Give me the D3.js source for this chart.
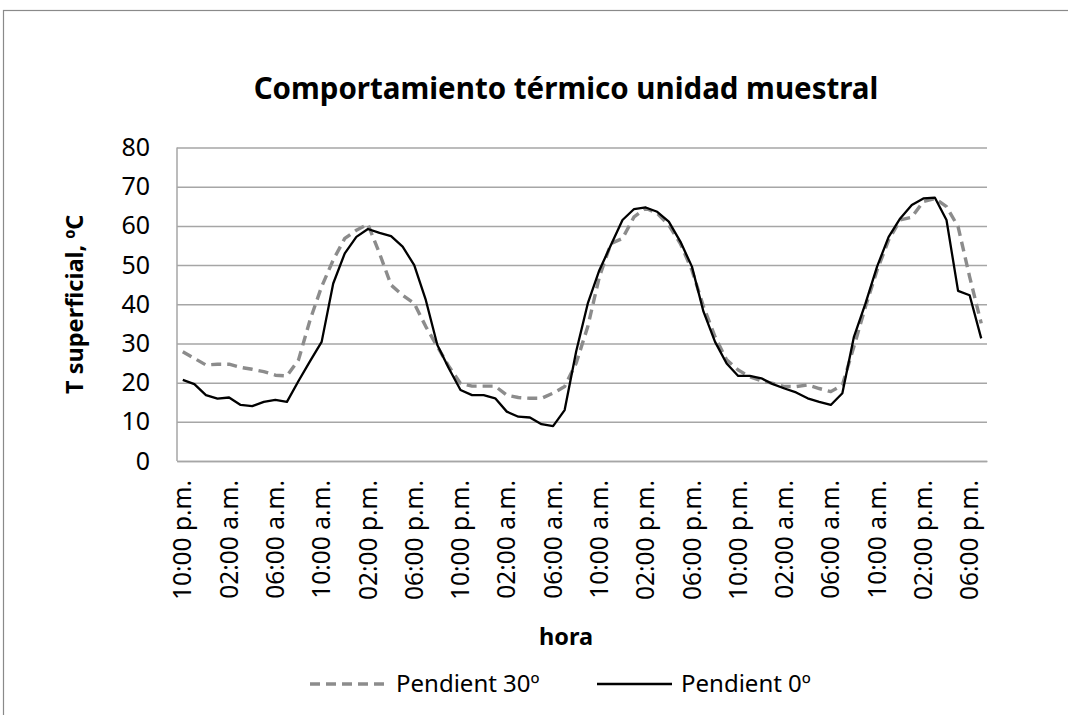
<!DOCTYPE html>
<html>
<head>
<meta charset="utf-8">
<script src="https://cdn.jsdelivr.net/npm/d3@7"></script>
<style>
	body { margin: 0; background: #fff; }
	text { font-family: "Noto Sans", "Open Sans", sans-serif; fill: #000; }
</style>
</head>
<body>
<div id="chart"></div>
<script>
// Tick labels along the time axis (one every 4 hours)
const tickLabels = [
	"10:00 p.m.", "02:00 a.m.", "06:00 a.m.", "10:00 a.m.", "02:00 p.m.", "06:00 p.m.",
	"10:00 p.m.", "02:00 a.m.", "06:00 a.m.", "10:00 a.m.", "02:00 p.m.", "06:00 p.m.",
	"10:00 p.m.", "02:00 a.m.", "06:00 a.m.", "10:00 a.m.", "02:00 p.m.", "06:00 p.m."
];

// Hourly readings, 70 hours starting at 10:00 p.m.
const pendient30 = [
	27.9, 26.2, 24.5, 24.7, 24.7, 23.9, 23.4, 22.8, 21.9, 21.7,
	25.8, 36.0, 44.5, 51.3, 56.8, 58.9, 60.4, 53.0, 44.9, 42.3,
	40.2, 34.3, 29.2, 24.1, 19.8, 19.1, 19.1, 19.1, 16.8, 16.2,
	16.0, 16.0, 17.3, 19.0, 25.0, 34.3, 47.0, 55.5, 56.8, 62.3,
	64.5, 63.2, 60.2, 55.5, 48.7, 39.4, 31.7, 25.8, 23.2, 21.5,
	20.5, 19.8, 19.0, 19.0, 19.4, 18.5, 17.7, 19.4, 29.2, 39.4,
	48.7, 56.4, 61.5, 62.2, 66.2, 67.0, 64.9, 59.8, 47.0, 35.1
];
const pendient0 = [
	20.7, 19.6, 16.8, 15.9, 16.2, 14.3, 14.0, 15.1, 15.6, 15.1,
	20.4, 25.5, 30.4, 45.3, 53.0, 57.2, 59.2, 58.2, 57.4, 54.7,
	50.0, 41.1, 29.6, 23.6, 18.1, 16.8, 16.8, 16.0, 12.6, 11.3,
	11.1, 9.4, 8.9, 13.0, 28.0, 40.2, 48.7, 55.1, 61.5, 64.3,
	64.7, 63.6, 61.1, 56.0, 49.6, 38.1, 30.4, 24.9, 21.7, 21.7,
	21.1, 19.6, 18.5, 17.5, 16.0, 15.1, 14.3, 17.3, 31.7, 40.2,
	49.6, 57.2, 61.9, 65.3, 67.0, 67.2, 61.5, 43.4, 42.3, 31.3
];
const seriesNames = ["Pendient 30º", "Pendient 0º"];
const yTicks = [0, 10, 20, 30, 40, 50, 60, 70, 80];

const W = 1068, H = 715;
const plot = { left: 177, right: 987, top: 147.5, bottom: 461 };
const gridColor = "#a6a6a6";

const svg = d3.select("#chart")
	.append("svg")
	.attr("width", W)
	.attr("height", H);

// outer chart frame (runs off the right/bottom edge)
svg.append("rect")
	.attr("x", 3.5).attr("y", 10.5)
	.attr("width", 1200).attr("height", 900)
	.attr("fill", "none")
	.attr("stroke", "#8a8a8a")
	.attr("stroke-width", 1.2);

const x = d3.scaleBand()
	.domain(d3.range(pendient0.length))
	.range([plot.left, plot.right])
	.paddingInner(0).paddingOuter(0);
const y = d3.scaleLinear().domain([0, 80]).range([plot.bottom, plot.top]);
const cx = (i) => x(i) + x.bandwidth() / 2;

// gridlines + y labels
const yAxis = svg.append("g")
	.attr("class", "y-axis")
	.attr("transform", "translate(" + plot.left + ",0)")
	.call(d3.axisLeft(y).tickValues(yTicks).tickSize(-(plot.right - plot.left)).tickPadding(27));
yAxis.select(".domain").remove();
yAxis.selectAll(".tick line").attr("stroke", gridColor).attr("stroke-width", 1.5);
yAxis.selectAll(".tick text")
	.style("font-size", "25px")
	.style("font-family", "'Noto Sans', sans-serif")
	.attr("fill", "#000");

// left axis line
svg.append("line")
	.attr("x1", plot.left).attr("x2", plot.left)
	.attr("y1", plot.top).attr("y2", plot.bottom)
	.attr("stroke", gridColor).attr("stroke-width", 1.5);

// x axis labels
const xAxis = svg.append("g")
	.attr("class", "x-axis")
	.attr("transform", "translate(0," + plot.bottom + ")")
	.call(d3.axisBottom(x)
		.tickValues(d3.range(0, pendient0.length, 4))
		.tickSize(0)
		.tickFormat((d, k) => tickLabels[k]));
xAxis.select(".domain").attr("stroke", gridColor).attr("stroke-width", 1.5);
xAxis.selectAll(".tick text")
	.style("font-size", "24.5px")
	.style("font-family", "'Noto Sans', sans-serif")
	.attr("fill", "#000")
	.attr("text-anchor", "end")
	.attr("transform", "rotate(-90)")
	.attr("x", -19)
	.attr("y", 0)
	.attr("dy", "0.35em");

// lines
const line = (vals) => d3.line().x((d, i) => cx(i)).y((d) => y(d))(vals);

svg.append("path")
	.attr("d", line(pendient30))
	.attr("fill", "none")
	.attr("stroke", "#8c8c8c")
	.attr("stroke-width", 3.4)
	.attr("stroke-dasharray", "10,6")
	.attr("stroke-linejoin", "round");

svg.append("path")
	.attr("d", line(pendient0))
	.attr("fill", "none")
	.attr("stroke", "#000")
	.attr("stroke-width", 2.3)
	.attr("stroke-linejoin", "round");

// title
svg.append("text")
	.attr("x", 566).attr("y", 99)
	.attr("text-anchor", "middle")
	.style("font-size", "29.5px")
	.style("font-weight", "bold")
	.text("Comportamiento térmico unidad muestral");

// axis titles
svg.append("text")
	.attr("transform", "translate(83," + ((plot.top + plot.bottom) / 2) + ") rotate(-90)")
	.attr("text-anchor", "middle")
	.style("font-size", "23.5px")
	.style("font-weight", "bold")
	.text("T superficial, ºC");

svg.append("text")
	.attr("x", 566).attr("y", 645)
	.attr("text-anchor", "middle")
	.style("font-size", "23.5px")
	.style("font-weight", "bold")
	.text("hora");

// legend
const legend = svg.append("g").attr("class", "legend");
legend.append("line")
	.attr("x1", 310).attr("x2", 390).attr("y1", 684).attr("y2", 684)
	.attr("stroke", "#8c8c8c").attr("stroke-width", 3.4).attr("stroke-dasharray", "10,6");
legend.append("text")
	.attr("x", 396).attr("y", 692)
	.style("font-size", "24px")
	.text(seriesNames[0]);
legend.append("line")
	.attr("x1", 597).attr("x2", 672).attr("y1", 684).attr("y2", 684)
	.attr("stroke", "#000").attr("stroke-width", 2.3);
legend.append("text")
	.attr("x", 681).attr("y", 692)
	.style("font-size", "24px")
	.text(seriesNames[1]);
</script>
</body>
</html>
